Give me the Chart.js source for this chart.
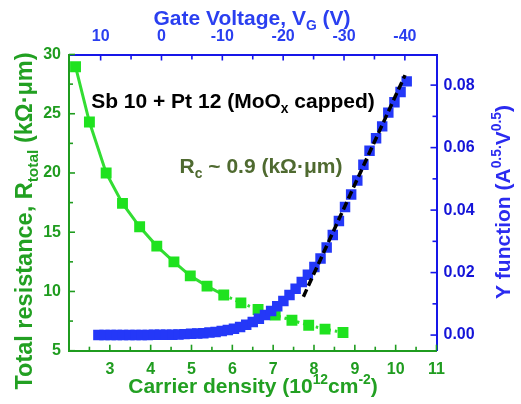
<!DOCTYPE html>
<html>
<head>
<meta charset="utf-8">
<script src="https://cdn.jsdelivr.net/npm/chart.js@4.4.1/dist/chart.umd.min.js"></script>
<style>
  html, body { margin: 0; padding: 0; background: #fff; }
  #wrap { width: 521px; height: 404px; position: relative; }
</style>
</head>
<body>
<div id="wrap"><canvas id="myChart"></canvas></div>
<script>
// R_total vs carrier density (left axis)
const densityR = [2.16, 2.50, 2.91, 3.31, 3.73, 4.15, 4.57, 4.97, 5.38, 5.79, 6.21, 6.63, 7.05, 7.46, 7.87, 8.27, 8.71];
const rTotal = [28.97, 24.3, 20.0, 17.43, 15.46, 13.83, 12.5, 11.32, 10.45, 9.7, 9.04, 8.48, 8.0, 7.57, 7.15, 6.82, 6.54];

// Y function vs carrier density (right axis)
const densityY = [2.72, 2.87, 3.02, 3.17, 3.32, 3.48, 3.63, 3.78, 3.93, 4.08, 4.23, 4.38, 4.53, 4.68, 4.83, 4.99,
  5.14, 5.29, 5.44, 5.59, 5.74, 5.89, 6.04, 6.19, 6.34, 6.50, 6.65, 6.80, 6.95, 7.10, 7.25, 7.40, 7.55,
  7.70, 7.85, 8.01, 8.16, 8.31, 8.46, 8.61, 8.76, 8.91, 9.06, 9.21, 9.36, 9.52, 9.67, 9.82, 9.97, 10.12, 10.27];
const yFunction = [0.0000, 0.0000, 0.0000, 0.0000, 0.0000, 0.0000, 0.0000, 0.0000, 0.0000, 0.0001, 0.0001, 0.0001, 0.0001,
  0.0002, 0.0003, 0.0004, 0.0005, 0.0006, 0.0008, 0.0010, 0.0013, 0.0016, 0.0020, 0.0026, 0.0033, 0.0042, 0.0052,
  0.0064, 0.0077, 0.0092, 0.0109, 0.0128, 0.0148, 0.0170, 0.0193, 0.0218, 0.0245, 0.0280, 0.0320, 0.0365, 0.0410,
  0.0450, 0.0495, 0.0545, 0.0590, 0.0630, 0.0668, 0.0712, 0.0745, 0.0778, 0.0812];

// linear fit (dashed)
const fitDensity = [7.74, 10.23];
const fitY = [0.0123, 0.0832];

// tick labels
const densityTicks = [3, 4, 5, 6, 7, 8, 9, 10, 11];
const gateTicks = [10, 0, -10, -20, -30, -40];
const rTicks = [5, 10, 15, 20, 25, 30];
const yTicks = [0, 0.02, 0.04, 0.06, 0.08];

const FONT = "'Liberation Sans', Arial, sans-serif";
const GREEN_AX = "#1f9c1f";
const BLUE_AX = "#1616e8";

// draw text with sub/superscripts, centred on x, baseline at y
function drawRich(ctx, parts, x, y, size, color, angle) {
  ctx.save();
  ctx.translate(x, y);
  ctx.rotate(angle);
  ctx.fillStyle = color;
  ctx.textBaseline = "alphabetic";
  const small = size * 0.66;
  const widths = parts.map(p => {
    ctx.font = "bold " + (p[1] ? small : size) + "px " + FONT;
    return ctx.measureText(p[0]).width;
  });
  let cx = -widths.reduce((a, b) => a + b, 0) / 2;
  parts.forEach((p, i) => {
    ctx.font = "bold " + (p[1] ? small : size) + "px " + FONT;
    let dy = 0;
    if (p[1] === "sub") dy = size * 0.24;
    if (p[1] === "sup") dy = -size * 0.42;
    ctx.fillText(p[0], cx, dy);
    cx += widths[i];
  });
  ctx.restore();
}

const titlesPlugin = {
  id: "titles",
  afterDraw(chart) {
    const ctx = chart.ctx;
    drawRich(ctx, [["Gate Voltage, V"], ["G", "sub"], [" (V)"]], 252, 25, 21, "#2a3ff0", 0);
    drawRich(ctx, [["Carrier density (10"], ["12", "sup"], ["cm"], ["-2", "sup"], [")"]], 253, 393, 21, "#22a022", 0);
    drawRich(ctx, [["Total resistance, R"], ["total", "sub"], [" (k\u03A9\u00B7\u03BCm)"]], 32, 221, 23.5, "#22a022", -Math.PI / 2);
    drawRich(ctx, [["Y function (A"], ["0.5.", "sup"], ["V"], ["0.5", "sup"], [")"]], 510, 202, 21, "#2b2bf0", -Math.PI / 2);
    drawRich(ctx, [["Sb 10 + Pt 12 (MoO"], ["x", "sub"], [" capped)"]], 233, 108, 21, "#000", 0);
    drawRich(ctx, [["R"], ["c", "sub"], [" ~ 0.9 (k\u03A9\u00B7\u03BCm)"]], 261, 173, 21, "#4f6a30", 0);
  }
};

// tick marks pointing into the plot
const innerTicks = {
  id: "innerTicks",
  afterDraw(chart) {
    const { ctx, chartArea: a, scales } = chart;
    ctx.save();
    ctx.lineWidth = 1.6;
    function marks(scale, values, len, color, side) {
      ctx.strokeStyle = color;
      values.forEach(v => {
        const p = scale.getPixelForValue(v);
        ctx.beginPath();
        if (side === "bottom") { ctx.moveTo(p, a.bottom); ctx.lineTo(p, a.bottom - len); }
        if (side === "top") { ctx.moveTo(p, a.top); ctx.lineTo(p, a.top + len); }
        if (side === "left") { ctx.moveTo(a.left, p); ctx.lineTo(a.left + len, p); }
        if (side === "right") { ctx.moveTo(a.right, p); ctx.lineTo(a.right - len, p); }
        ctx.stroke();
      });
    }
    const minorX = [], minorG = [], minorR = [], minorY = [];
    for (let v = 2.5; v < 11; v += 1) minorX.push(v);
    for (let v = 5; v > -40; v -= 10) minorG.push(v);
    for (let v = 7.5; v < 30; v += 5) minorR.push(v);
    for (let v = 0.01; v < 0.085; v += 0.02) minorY.push(v);
    marks(scales.x, densityTicks, 6, GREEN_AX, "bottom");
    marks(scales.x, minorX, 4, GREEN_AX, "bottom");
    marks(scales.x2, gateTicks, 6, BLUE_AX, "top");
    marks(scales.x2, minorG, 5, BLUE_AX, "top");
    marks(scales.y, rTicks, 6, GREEN_AX, "left");
    marks(scales.y, minorR, 4, GREEN_AX, "left");
    marks(scales.y2, yTicks, 6, BLUE_AX, "right");
    marks(scales.y2, minorY, 4, BLUE_AX, "right");
    ctx.restore();
  }
};

function tickFont() {
  return { family: FONT, size: 16, weight: "bold" };
}

const ctx = document.getElementById("myChart").getContext("2d");
const myChart = new Chart(ctx, {
  type: "scatter",
  data: {
    datasets: [
      {
        label: "fit",
        data: fitDensity.map((x, i) => ({ x: x, y: fitY[i] })),
        xAxisID: "x",
        yAxisID: "y2",
        showLine: true,
        borderColor: "#000",
        borderWidth: 3.5,
        borderDash: [8, 4],
        pointRadius: 0,
        order: 0,
      },
      {
        label: "Y function",
        data: densityY.map((x, i) => ({ x: x, y: yFunction[i] })),
        xAxisID: "x",
        yAxisID: "y2",
        showLine: false,
        pointStyle: "rect",
        pointRadius: 7.4,
        pointBorderWidth: 0,
        backgroundColor: "#2438f8",
        borderColor: "#2438f8",
        order: 1,
      },
      {
        label: "R total",
        data: densityR.map((x, i) => ({ x: x, y: rTotal[i] })),
        xAxisID: "x",
        yAxisID: "y",
        showLine: true,
        borderColor: "#33dd33",
        borderWidth: 3,
        segment: {
          borderDash: c => (c.p0DataIndex >= 9 ? [2.5, 4] : undefined),
        },
        pointStyle: "rect",
        pointRadius: 7.7,
        pointBorderWidth: 0,
        backgroundColor: "#1fe21f",
        order: 2,
      },
    ],
  },
  options: {
    responsive: true,
    maintainAspectRatio: false,
    animation: false,
    layout: { padding: 0 },
    plugins: { legend: { display: false }, tooltip: { enabled: false } },
    scales: {
      x: {
        type: "linear", position: "bottom", min: 2, max: 11,
        afterBuildTicks: s => { s.ticks = densityTicks.map(v => ({ value: v })); },
        afterFit: s => { s.height = 53.3; },
        grid: { display: false, drawTicks: false },
        border: { display: true, color: GREEN_AX, width: 2 },
        ticks: { color: GREEN_AX, font: tickFont(), padding: 9, maxRotation: 0, autoSkip: false },
      },
      x2: {
        type: "linear", position: "top", reverse: true, min: -45.2, max: 15.2,
        afterBuildTicks: s => { s.ticks = gateTicks.map(v => ({ value: v })); },
        afterFit: s => { s.height = 54.5; },
        grid: { display: false, drawTicks: false },
        border: { display: true, color: BLUE_AX, width: 2 },
        ticks: { color: "#2a3ff0", font: tickFont(), padding: 8, maxRotation: 0, autoSkip: false },
      },
      y: {
        type: "linear", position: "left", min: 5, max: 30,
        afterBuildTicks: s => { s.ticks = rTicks.map(v => ({ value: v })); },
        afterFit: s => { s.width = 69; },
        grid: { display: false, drawTicks: false },
        border: { display: true, color: GREEN_AX, width: 2 },
        ticks: { color: GREEN_AX, font: tickFont(), padding: 8, autoSkip: false },
      },
      y2: {
        type: "linear", position: "right", min: -0.005, max: 0.0898,
        afterBuildTicks: s => { s.ticks = yTicks.map(v => ({ value: v })); },
        afterFit: s => { s.width = 84.5; },
        grid: { display: false, drawTicks: false },
        border: { display: true, color: BLUE_AX, width: 2 },
        ticks: {
          color: "#1414d8", font: tickFont(), padding: 7, autoSkip: false,
          callback: v => v.toFixed(2),
        },
      },
    },
  },
  plugins: [innerTicks, titlesPlugin],
});
</script>
</body>
</html>
